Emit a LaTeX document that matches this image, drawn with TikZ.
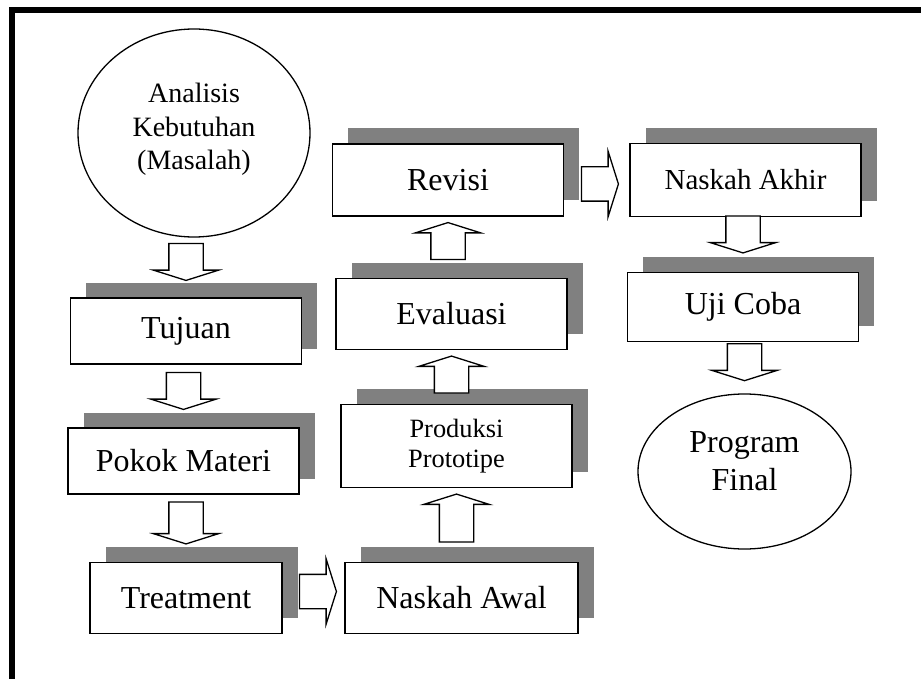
\documentclass[tikz,border=0pt]{standalone}
\usepackage{fontspec}
\setmainfont{Liberation Serif}
\usetikzlibrary{shapes.geometric,shapes.arrows,shadows,calc}

\tikzset{
  box/.style={rectangle, draw, line width=1.8pt, fill=white, inner sep=0pt,
    minimum width=231pt, minimum height=71pt, font=\fontsize{32}{38}\selectfont,
    general shadow={fill=gray, shadow xshift=15.5pt, shadow yshift=15.5pt}},
  oval/.style={ellipse, draw, line width=1.3pt, fill=white, inner sep=0pt, align=center},
  fatarrow/.style={single arrow, draw, fill=white, line width=1.3pt, anchor=tip,
    minimum width=0pt, minimum height=37pt, inner xsep=0pt, inner ysep=16.5pt,
    single arrow head extend=15.5pt, single arrow tip angle=145}
}

\begin{document}
\begin{tikzpicture}[x=1pt, y=-1pt, node distance=130pt]
\useasboundingbox (0,0) rectangle (921,679);
\draw[line width=6pt, line join=miter] (12.2,679) -- (12.2,10.3) -- (921,10.3);

\node[oval, minimum width=232pt, minimum height=208pt, text depth=13pt,
  font=\fontsize{28}{33.5}\selectfont] (ana) at (194,133) {Analisis\\Kebutuhan\\(Masalah)};
\node[box, below of=ana, yshift=-68pt, xshift=-8pt, minimum height=66pt] (tuj) {Tujuan};
\node[box, below of=tuj, xshift=-2.5pt, minimum height=66pt] (pok) {Pokok Materi};
\node[box, below of=pok, yshift=-7pt, xshift=2.5pt, minimum width=192pt] (tre) {Treatment};
\node[box, right of=tre, xshift=145.5pt, minimum width=233pt] (awl) {Naskah Awal};
\node[box, above of=awl, yshift=22pt, xshift=-5pt, minimum height=83pt, align=center,
  font=\fontsize{26.4}{30}\selectfont] (pro) {Produksi\\Prototipe};
\node[box, above of=pro, yshift=2pt, xshift=-5pt] (eva) {Evaluasi};
\node[box, above of=eva, yshift=4pt, xshift=-3.5pt, minimum height=72pt] (rev) {Revisi};
\node[box, right of=rev, xshift=167.5pt, minimum height=73pt,
  font=\fontsize{29}{34}\selectfont] (akh) {Naskah Akhir};
\node[box, below of=akh, yshift=3pt, xshift=-2.5pt, minimum height=69pt] (uji) {Uji Coba};
\node[oval, below of=uji, yshift=-34.5pt, xshift=1.5pt, minimum width=213pt,
  minimum height=155pt, text depth=20pt, font=\fontsize{32}{38}\selectfont] (fin) {Program\\Final};

% down the left column
\path (ana.south) -- node[fatarrow, pos=1, rotate=-90] {} ($(tuj.north)+(0,16pt)$);
\path (tuj.south) -- node[fatarrow, pos=1, rotate=-90] {} ($(pok.north)+(0,17pt)$);
\path (pok.south) -- node[fatarrow, pos=1, rotate=-90, minimum height=42pt] {} ($(tre.north)+(0,17pt)$);
\path (tre.east) -- node[fatarrow, pos=1] {} ($(awl.west)+(-7pt,6.5pt)$);
% up the middle column
\path (awl.north) -- node[fatarrow, pos=1, rotate=90, minimum height=48pt] {} ($(pro.south)+(0,-5pt)$);
\path (pro.north) -- node[fatarrow, pos=1, rotate=90] {} ($(eva.south)+(0,-5pt)$);
\path (eva.north) -- node[fatarrow, pos=1, rotate=90] {} ($(rev.south)+(0,-5pt)$);
\path (rev.east) -- node[fatarrow, pos=1] {} ($(akh.west)+(-10pt,-4pt)$);
% down the right column
\path (akh.south) -- node[fatarrow, pos=1, rotate=-90] {} ($(uji.north)+(0,18pt)$);
\path (uji.south) -- node[fatarrow, pos=1, rotate=-90] {} ($(fin.north)+(0,12pt)$);
\end{tikzpicture}
\end{document}
